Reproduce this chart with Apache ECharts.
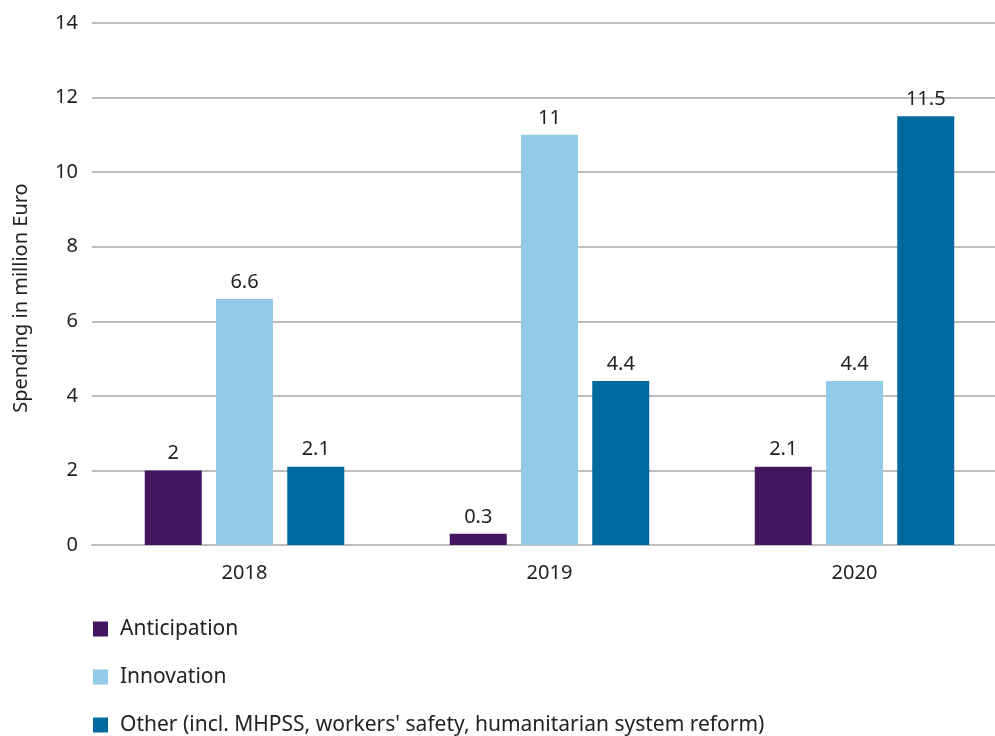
<!DOCTYPE html>
<html>
<head>
<meta charset="utf-8">
<script src="https://cdn.jsdelivr.net/npm/echarts@6/dist/echarts.min.js"></script>
<style>
  html, body { margin: 0; padding: 0; background: #fff; }
  #chart { width: 995px; height: 736px; }
</style>
</head>
<body>
<div id="chart"></div>
<script>
var years = ['2018', '2019', '2020'];
var anticipation = [2, 0.3, 2.1];
var innovation = [6.6, 11, 4.4];
var other = [2.1, 4.4, 11.5];
var seriesNames = ['Anticipation', 'Innovation', "Other (incl. MHPSS, workers' safety, humanitarian system reform)"];

var font = 'Noto Sans';
var textColor = '#222';

var myChart = echarts.init(document.getElementById('chart'));

function bar(name, data, color) {
    return {
        name: name,
        type: 'bar',
        data: data,
        barWidth: 57,
        barGap: '25%',
        itemStyle: { color: color },
        label: {
            show: true,
            position: 'top',
            distance: 7,
            color: textColor,
            fontFamily: font,
            fontSize: 20
        }
    };
}

var option = {
    animation: false,
    grid: {
        left: 92,
        right: -12,
        top: 23,
        bottom: 191,
        outerBoundsMode: 'none'
    },
    legend: {
        orient: 'vertical',
        left: 93,
        top: 616,
        height: 200,
        padding: 0,
        itemWidth: 15,
        itemHeight: 15,
        itemGap: 22,
        icon: 'rect',
        data: seriesNames,
        textStyle: {
            color: textColor,
            fontFamily: font,
            fontSize: 21,
            lineHeight: 26,
            padding: [0, 0, 0, 7]
        }
    },
    xAxis: {
        type: 'category',
        data: years,
        axisTick: { show: false },
        axisLine: { lineStyle: { color: '#bdbdbd', width: 2 } },
        axisLabel: {
            color: textColor,
            fontFamily: font,
            fontSize: 20,
            margin: 18
        }
    },
    yAxis: {
        type: 'value',
        min: 0,
        max: 14,
        interval: 2,
        name: 'Spending in million Euro',
        nameLocation: 'middle',
        nameGap: 61,
        nameTextStyle: {
            color: textColor,
            fontFamily: font,
            fontSize: 20,
            padding: [0, 28, 0, 0]
        },
        axisLine: { show: false },
        axisTick: { show: false },
        axisLabel: {
            color: textColor,
            fontFamily: font,
            fontSize: 20,
            margin: 14
        },
        splitLine: { lineStyle: { color: '#bdbdbd', width: 2 } }
    },
    series: [
        bar(seriesNames[0], anticipation, '#431560'),
        bar(seriesNames[1], innovation, '#93cae8'),
        bar(seriesNames[2], other, '#006a9e')
    ]
};
myChart.setOption(option);
</script>
</body>
</html>
